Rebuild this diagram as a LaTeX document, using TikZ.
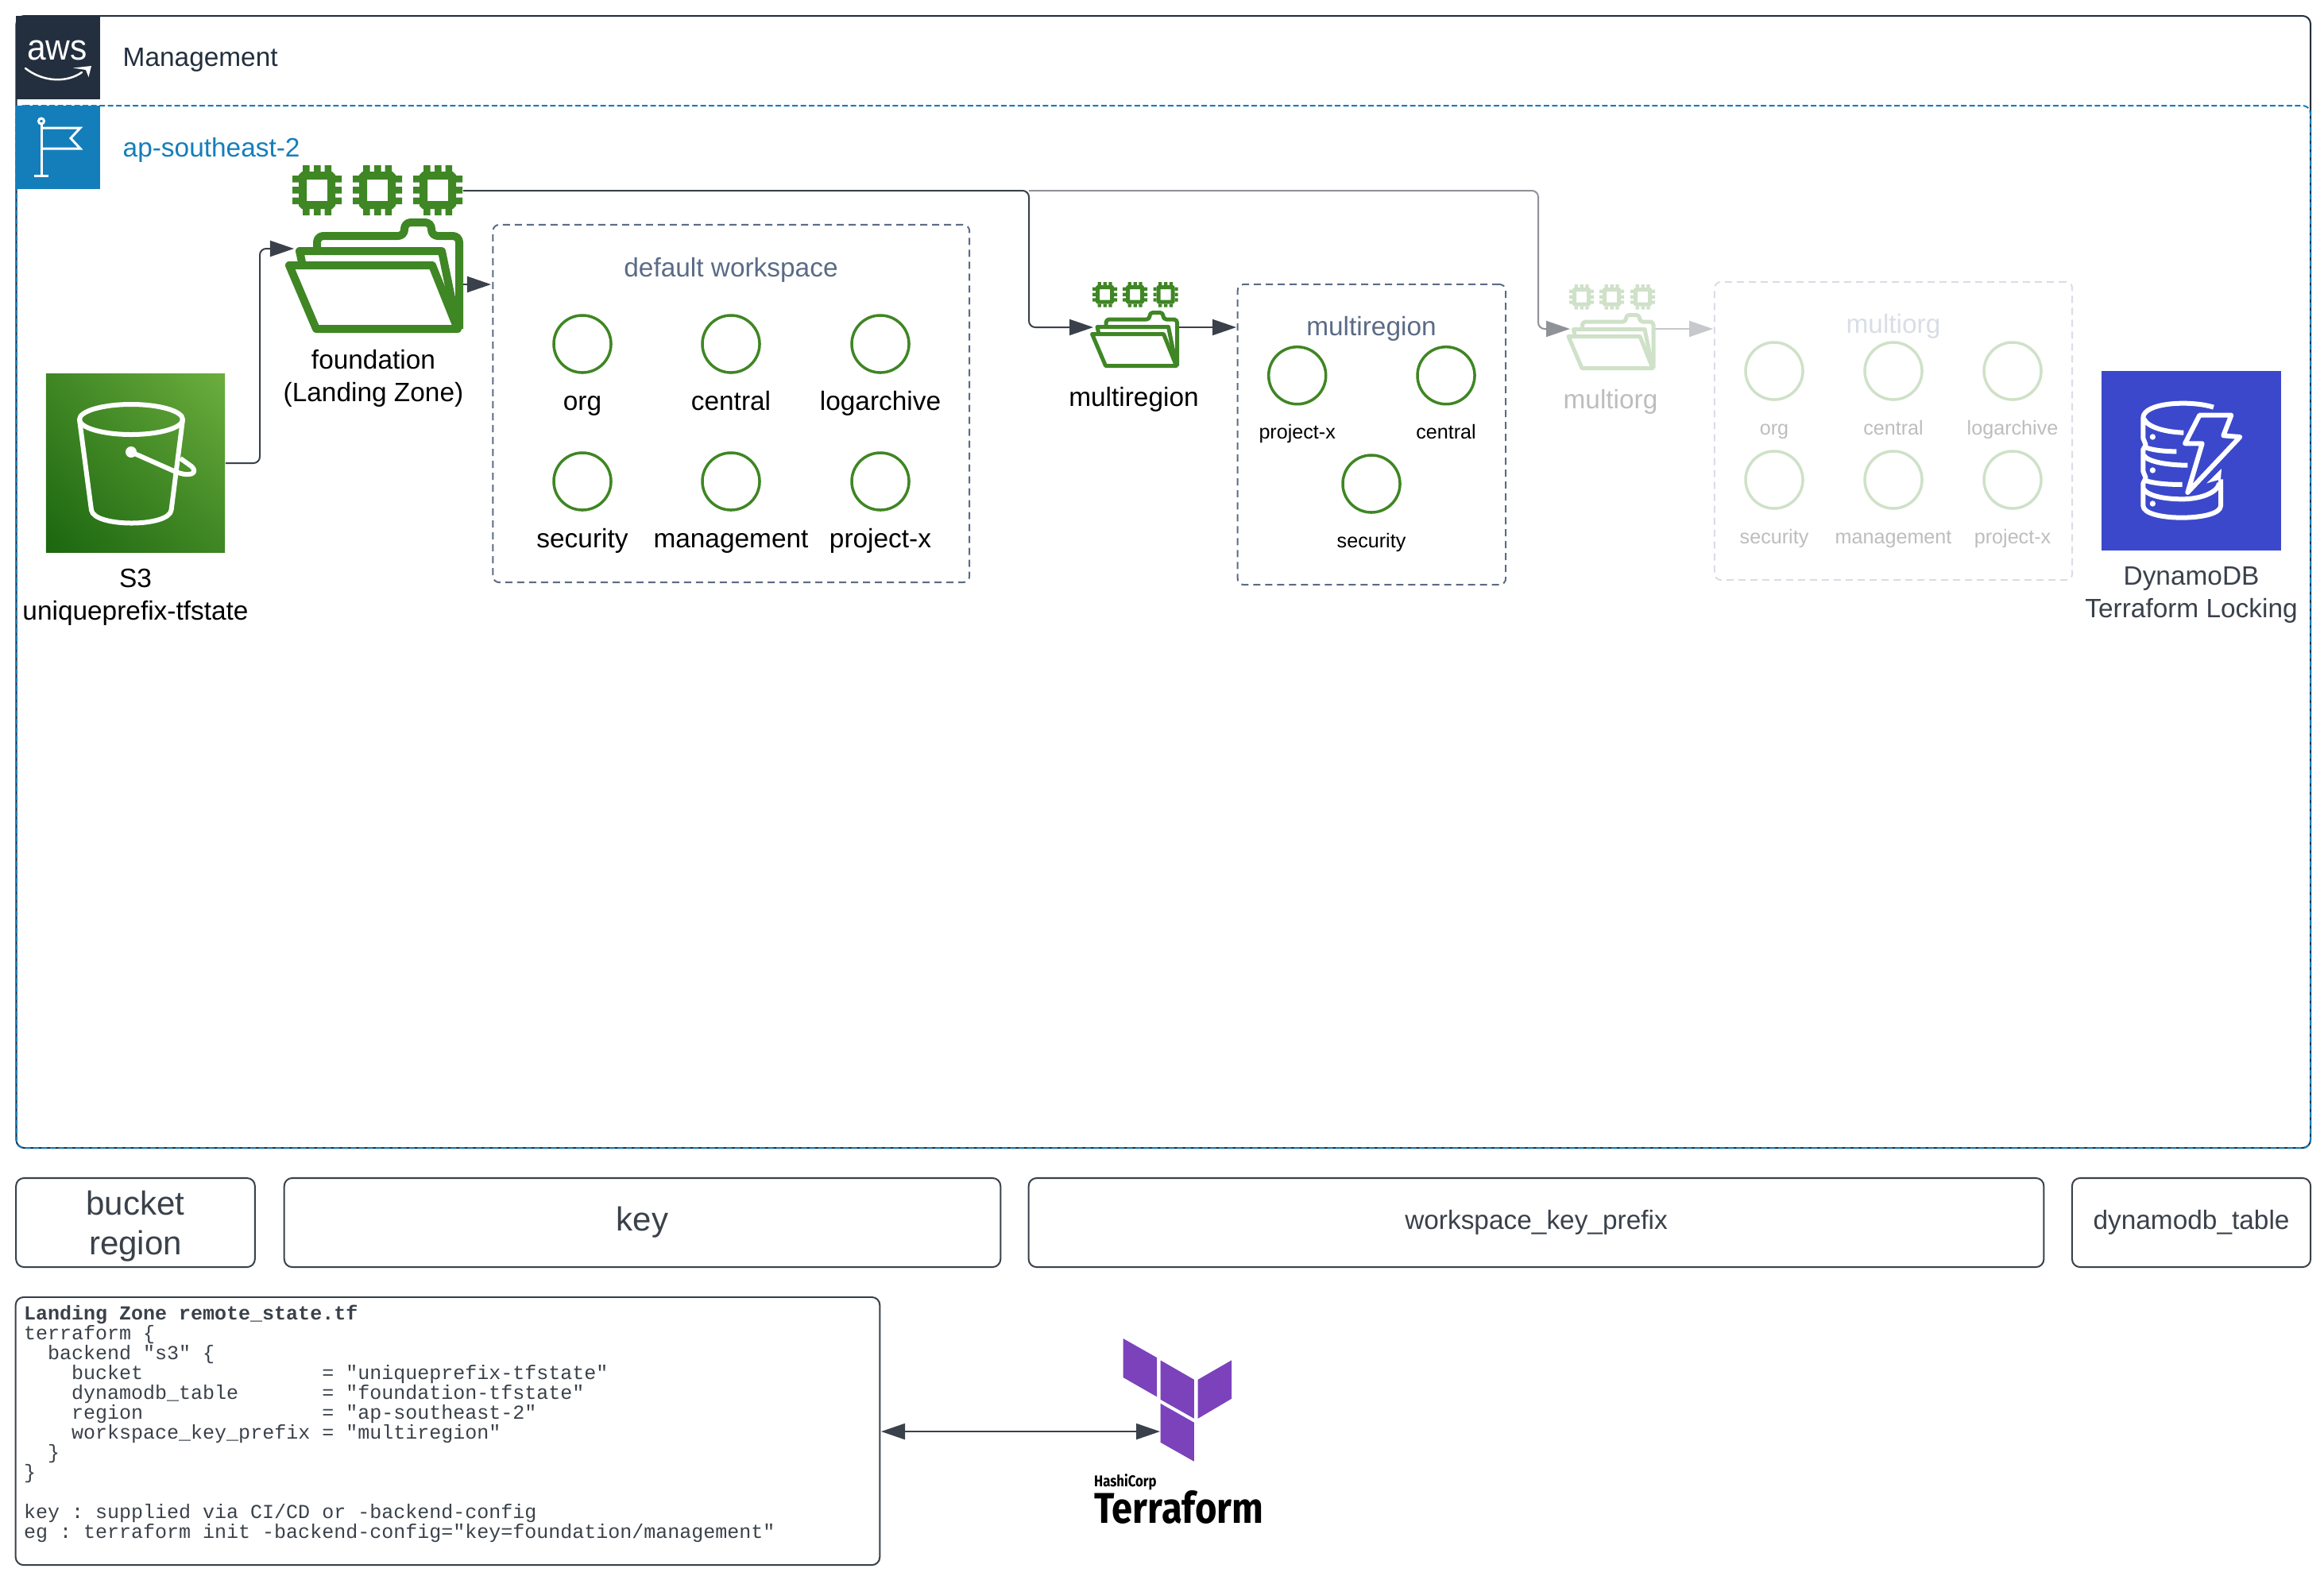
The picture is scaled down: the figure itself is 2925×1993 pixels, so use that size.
\documentclass[tikz,border=0pt]{standalone}
\usepackage{fontspec}
\setmainfont{Liberation Sans}
\setmonofont{Liberation Mono}
\newfontfamily\logofont{Fira Sans}
\usetikzlibrary{arrows.meta}
\usetikzlibrary{shadings}
\pgfdeclarelayer{edgelayer}
\pgfdeclarelayer{nodelayer}
\pgfsetlayers{edgelayer,nodelayer,main}
\definecolor{awsdark}{HTML}{232F3E}
\definecolor{regionblue}{HTML}{147EBA}
\definecolor{linegrey}{HTML}{3A414A}
\definecolor{slate}{HTML}{5A6B86}
\definecolor{leaf}{HTML}{3F8624}
\definecolor{s3low}{HTML}{1B660F}
\definecolor{s3high}{HTML}{6CAE3E}
\definecolor{fadeleaf}{HTML}{CFE1C8}
\definecolor{fadetext}{HTML}{BDBDBD}
\definecolor{fadeslate}{HTML}{D9DDE6}
\definecolor{fadeline}{HTML}{C6C8CB}
\definecolor{branchgrey}{HTML}{8F9297}
\definecolor{dynablue}{HTML}{3B48CC}
\definecolor{tfpurple}{HTML}{7B42BC}
\tikzset{>={Triangle[length=0.3cm,width=0.2cm]}}
\tikzstyle{none}=[inner sep=0pt]
\tikzstyle{caption}=[inner sep=0pt, font=\fontsize{9.5pt}{11.7pt}\selectfont, text height=0.24cm, text depth=0.07cm]
\tikzstyle{twolines}=[inner sep=0pt, align=center, font=\fontsize{9.5pt}{11.7pt}\selectfont]
\tikzstyle{smalltext}=[inner sep=0pt, font=\fontsize{7.15pt}{8.5pt}\selectfont, text height=0.18cm, text depth=0.05cm]
\tikzstyle{below1}=[style=caption, yshift=-0.205cm]
\tikzstyle{below2}=[style=smalltext, yshift=-0.235cm]
\tikzstyle{tile}=[inner sep=0pt, minimum size=1.05cm]
\tikzstyle{bigtile}=[inner sep=0pt, minimum size=2.25cm]
\tikzstyle{group}=[draw=slate, line width=0.02cm, rounded corners=0.08cm, dash pattern=on 0.09cm off 0.06cm]
\tikzstyle{account}=[circle, draw=leaf, line width=0.035cm, inner sep=0pt, minimum size=0.72cm]
\tikzstyle{fieldbox}=[draw=linegrey, line width=0.02cm, rounded corners=0.1cm, text=linegrey, inner sep=0pt, minimum height=1.12cm, align=center, font=\fontsize{9.5pt}{11.7pt}\selectfont]
\tikzstyle{flow}=[->, color=linegrey, line width=0.02cm, rounded corners=0.08cm]
\newcommand{\chipicon}[4]{%
	\begin{scope}[shift={(#1, #2)}, x=#3*0.01cm, y=-#3*0.01cm]
		\fill [#4, even odd rule] (12, 8) -- (50, 8) -- (54, 12) -- (54, 51) -- (50, 55) -- (12, 55) -- (8, 51) -- (8, 12) -- cycle (18, 18) rectangle (44, 45);
		\fill [#4] (13, 0) rectangle (21.5, 8) (27, 0) rectangle (35.5, 8) (40.5, 0) rectangle (49, 8);
		\fill [#4] (13, 55) rectangle (21.5, 63) (27, 55) rectangle (35.5, 63) (40.5, 55) rectangle (49, 63);
		\fill [#4] (0, 13) rectangle (8, 21.5) (0, 27) rectangle (8, 35.5) (0, 40.5) rectangle (8, 49);
		\fill [#4] (54, 13) rectangle (62, 21.5) (54, 27) rectangle (62, 35.5) (54, 40.5) rectangle (62, 49);
	\end{scope}}
\newcommand{\foldericon}[4]{%
	\begin{scope}[shift={(#1, #2)}, x=#3*0.01cm, y=-#3*0.01cm, line width=#3*0.1cm, line join=round, draw=#4]
		\draw (6, 59) -- (186, 59) -- (218, 139) -- (40, 139) -- cycle;
		\draw (22, 55) -- (19, 41) -- (198, 41) -- (218, 139);
		\draw [rounded corners=#3*0.08cm] (41, 41) -- (41, 22) -- (151, 22) -- (151, 5) -- (185, 5) -- (185, 22) -- (220, 22) -- (220, 139);
	\end{scope}}
\begin{document}
\begin{tikzpicture}[x=0.01cm, y=-0.01cm]
	\useasboundingbox (0, 0) rectangle (2925, 1993);
	\begin{pgfonlayer}{nodelayer}
		\node [style=tile, fill=awsdark] (awstile) at (73, 72.5) {};
		\node [style=tile, fill=regionblue] (flagtile) at (73, 185.5) {};
		\node [style=caption, anchor=west, text=awsdark] (management) at (154, 75) {Management};
		\node [style=caption, anchor=west, text=regionblue] (region) at (154, 189) {ap-southeast-2};
		\node [inner sep=0pt, anchor=base, text=white, xscale=0.93, font=\fontsize{13pt}{13pt}\selectfont] (awstext) at (72, 75) {aws};
		% state bucket and lock table
		\node [style=bigtile, lower left=s3low, upper right=s3high, upper left=leaf, lower right=leaf] (s3) at (170.5, 583) {};
		\node [style=twolines] (s3label) at (170.5, 752) {S3\\uniqueprefix-tfstate};
		\node [style=bigtile, fill=dynablue] (dynamodb) at (2758, 580) {};
		\node [style=twolines, text=linegrey] (dynamolabel) at (2758, 749) {DynamoDB\\Terraform Locking};
		% connector ends
		\node [style=none] (chipout) at (583, 240) {};
		\node [style=none] (s3up) at (327, 313) {};
		\node [style=none] (foundin) at (370, 313) {};
		\node [style=none] (foundout) at (583, 358) {};
		\node [style=none] (defaultin) at (618, 358) {};
		\node [style=none] (split) at (1295, 240) {};
		\node [style=none] (mrbend) at (1295, 412) {};
		\node [style=none] (mrin) at (1376, 412) {};
		\node [style=none] (mrout) at (1483, 412) {};
		\node [style=none] (mrgroupin) at (1556, 412) {};
		\node [style=none] (orgbend) at (1936, 414) {};
		\node [style=none] (orgin) at (1976, 414) {};
		\node [style=none] (orgout) at (2083, 414) {};
		\node [style=none] (orggroupin) at (2156, 414) {};
		\node [style=none] (codeout) at (1109, 1802) {};
		\node [style=none] (logoin) at (1460, 1802) {};
		% foundation
		\node [style=twolines] (foundlabel) at (470, 476) {foundation\\(Landing Zone)};
		\node [style=group, minimum width=5.995cm, minimum height=4.5cm] (defaultgroup) at (920.25, 508) {};
		\node [style=caption, text=slate] (defaulttitle) at (920, 340) {default workspace};
		\node [style=account, label={[style=below1]-90:org}] (org) at (733, 433) {};
		\node [style=account, label={[style=below1]-90:central}] (central) at (920, 433) {};
		\node [style=account, label={[style=below1]-90:logarchive}] (logarchive) at (1108, 433) {};
		\node [style=account, label={[style=below1]-90:security}] (security) at (733, 606) {};
		\node [style=account, label={[style=below1]-90:management}] (mgmt) at (920, 606) {};
		\node [style=account, label={[style=below1]-90:project-x}] (projectx) at (1108, 606) {};
		% multiregion
		\node [style=caption] (mrlabel) at (1427, 503) {multiregion};
		\node [style=group, minimum width=3.373cm, minimum height=3.78cm] (mrgroup) at (1726.4, 547) {};
		\node [style=caption, text=slate] (mrtitle) at (1726, 414) {multiregion};
		\node [style=account, label={[style=below2]-90:project-x}] (mrproject) at (1632.7, 472.7) {};
		\node [style=account, label={[style=below2]-90:central}] (mrcentral) at (1820, 472.7) {};
		\node [style=account, label={[style=below2]-90:security}] (mrsecurity) at (1726, 609) {};
		% multiorg
		\node [style=caption, text=fadetext] (orglabel) at (2027, 506) {multiorg};
		\node [style=group, draw=fadeslate, minimum width=4.5cm, minimum height=3.75cm] (orggroup) at (2383, 542.5) {};
		\node [style=caption, text=fadeslate] (orgtitle) at (2383, 411) {multiorg};
		\node [style=account, draw=fadeleaf, label={[style=below2, text=fadetext]-90:org}] (oorg) at (2233, 467) {};
		\node [style=account, draw=fadeleaf, label={[style=below2, text=fadetext]-90:central}] (ocentral) at (2383, 467) {};
		\node [style=account, draw=fadeleaf, label={[style=below2, text=fadetext]-90:logarchive}] (ologarchive) at (2533, 467) {};
		\node [style=account, draw=fadeleaf, label={[style=below2, text=fadetext]-90:security}] (osecurity) at (2233, 604) {};
		\node [style=account, draw=fadeleaf, label={[style=below2, text=fadetext]-90:management}] (omgmt) at (2383, 604) {};
		\node [style=account, draw=fadeleaf, label={[style=below2, text=fadetext]-90:project-x}] (oproject) at (2533, 604) {};
		% backend fields
		\node [style=fieldbox, minimum width=3.005cm, font=\fontsize{11.95pt}{14.2pt}\selectfont] (bucketbox) at (170.5, 1539) {\rule{0pt}{0.4cm}bucket\\region};
		\node [style=fieldbox, minimum width=9.01cm, font=\fontsize{11.95pt}{14.2pt}\selectfont] (keybox) at (808.5, 1539) {key};
		\node [style=fieldbox, minimum width=12.77cm] (prefixbox) at (1933.5, 1539) {workspace\_key\_prefix};
		\node [style=fieldbox, minimum width=3cm] (tablebox) at (2758, 1539) {dynamodb\_table};
		% code
		\node [draw=linegrey, line width=0.02cm, rounded corners=0.1cm, minimum width=10.87cm, minimum height=3.37cm] (codebox) at (563.5, 1801.5) {};
		\node [inner sep=0pt, anchor=north west, align=left, text=linegrey, font=\ttfamily\fontsize{7.11pt}{7.11pt}\selectfont] (code) at (29.5, 1642.5) {\textbf{Landing Zone remote\_state.tf}\\
terraform \{\\
~~backend "s3" \{\\
~~~~bucket~~~~~~~~~~~~~~~= "uniqueprefix-tfstate"\\
~~~~dynamodb\_table~~~~~~~= "foundation-tfstate"\\
~~~~region~~~~~~~~~~~~~~~= "ap-southeast-2"\\
~~~~workspace\_key\_prefix = "multiregion"\\
~~\}\\
\}\\
~\\
key : supplied via CI/CD or -backend-config\\
eg : terraform init -backend-config="key=foundation/management"};
		% terraform logo
		\node [inner sep=0pt, anchor=base west, xscale=0.85, font=\logofont\bfseries\fontsize{5.6pt}{5.6pt}\selectfont] (hashicorp) at (1376.5, 1871) {HashiCorp};
		\node [inner sep=0pt, anchor=base west, xscale=0.87, font=\logofont\bfseries\fontsize{15.4pt}{15.4pt}\selectfont] (terraform) at (1376.5, 1917) {Terraform};
	\end{pgfonlayer}
	\begin{pgfonlayer}{edgelayer}
		\draw [color=awsdark, line width=0.02cm, rounded corners=0.1cm] (20.5, 20) rectangle (2908, 1445);
		\draw [color=regionblue, line width=0.02cm, rounded corners=0.1cm, dash pattern=on 0.07cm off 0.035cm] (20.5, 133) -- (2908, 133) -- (2908, 1445) -- (20.5, 1445) -- cycle;
		\draw [style=flow] (s3.east) -| (s3up.center) -- (foundin.center);
		\draw [style=flow] (foundout.center) to (defaultin.center);
		\draw [style=flow, color=branchgrey] (split.center) -| (orgbend.center) -- (orgin.center);
		\draw [style=flow] (chipout.center) -| (mrbend.center) -- (mrin.center);
		\draw [style=flow] (mrout.center) to (mrgroupin.center);
		\draw [style=flow, color=fadeline] (orgout.center) to (orggroupin.center);
		\draw [style=flow, <->] (codeout.center) to (logoin.center);
	\end{pgfonlayer}
	% icons
	\draw [white, line width=0.025cm, line cap=round] (32, 86) .. controls (55, 104) and (85, 104) .. (103, 91);
	\fill [white] (92, 85.5) -- (115, 83) -- (111.5, 97) -- (108, 88) -- cycle;
	\begin{scope}[white, line width=0.03cm]
		\draw (52, 156) -- (52, 221) (43, 221) -- (61, 221);
		\draw (52, 152.5) circle (3.5);
		\draw (52, 161) -- (101, 161) -- (89, 174) -- (101, 187) -- (52, 187);
	\end{scope}
	\begin{scope}[white, line width=0.06cm, line join=round]
		\draw (165, 528) ellipse (65 and 19);
		\draw (100, 528) -- (115, 642) .. controls (118, 664) and (213, 664) .. (215.6, 642) -- (230, 528);
		\fill (165, 569) circle (7);
		\draw (165, 569) -- (219, 593) .. controls (240, 602) and (250, 595) .. (241, 587) -- (227, 577);
	\end{scope}
	\begin{scope}[shift={(2550, 440)}, scale=0.3333, white, line width=0.06cm, line join=round]
		\draw (708, 218) .. controls (620, 190) and (442, 200) .. (442, 258) -- (442, 335) -- (452, 360) -- (442, 378) -- (442, 460) -- (452, 485) -- (442, 505) -- (442, 590) .. controls (442, 650) and (735, 650) .. (735, 590) -- (735, 490);
		\draw (445, 262) .. controls (460, 295) and (530, 312) .. (595, 314);
		\draw (452, 370) .. controls (480, 380) and (520, 385) .. (568, 385);
		\draw (445, 400) .. controls (460, 425) and (540, 437) .. (610, 437);
		\draw (452, 495) .. controls (480, 505) and (530, 510) .. (590, 510);
		\draw (442, 525) .. controls (460, 555) and (530, 565) .. (590, 565) .. controls (650, 565) and (720, 545) .. (730, 505);
		\fill (682, 505) -- (738, 450) -- (735, 490) -- cycle;
		\draw (655, 248) -- (775, 248) -- (745, 325) -- (808, 330) -- (610, 540) -- (665, 355) -- (600, 355) -- cycle;
		\fill (478, 330) circle (11) (478, 456) circle (11) (478, 582) circle (11);
	\end{scope}
	\chipicon{368}{208}{1}{leaf}
	\chipicon{444}{208}{1}{leaf}
	\chipicon{520}{208}{1}{leaf}
	\foldericon{358}{275}{1}{leaf}
	\chipicon{1375}{355}{0.5}{leaf}
	\chipicon{1413}{355}{0.5}{leaf}
	\chipicon{1451.5}{355}{0.5}{leaf}
	\foldericon{1371.5}{391}{0.5}{leaf}
	\chipicon{1975}{358}{0.5}{fadeleaf}
	\chipicon{2013}{358}{0.5}{fadeleaf}
	\chipicon{2052}{358}{0.5}{fadeleaf}
	\foldericon{1971}{394}{0.5}{fadeleaf}
	\fill [tfpurple] (1413.7, 1685) -- (1456, 1709) -- (1456, 1758.3) -- (1413.7, 1734) -- cycle;
	\fill [tfpurple] (1460.5, 1712.3) -- (1502.9, 1736.7) -- (1502.9, 1785.7) -- (1460.5, 1761.7) -- cycle;
	\fill [tfpurple] (1507.7, 1736.7) -- (1550, 1712.3) -- (1550, 1760.7) -- (1507.7, 1785.7) -- cycle;
	\fill [tfpurple] (1460.5, 1766.7) -- (1502.9, 1790.7) -- (1502.9, 1839.7) -- (1460.5, 1815.7) -- cycle;
\end{tikzpicture}
\end{document}
